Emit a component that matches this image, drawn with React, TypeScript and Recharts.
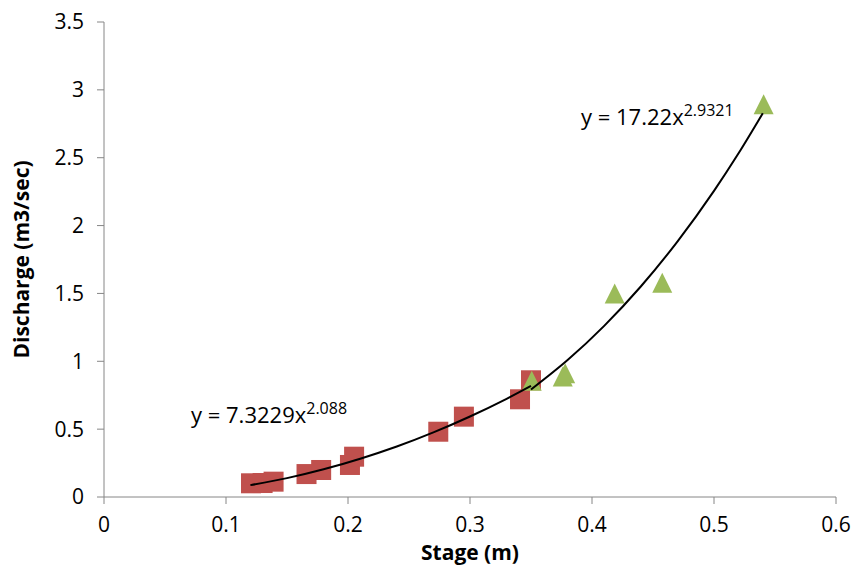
import { Scatter, ScatterChart, XAxis, YAxis } from "recharts"

// measured points: stage (m) vs discharge (m3/sec)
const lowStage = [0.1205, 0.13, 0.139, 0.166, 0.178, 0.2016, 0.205, 0.274, 0.295, 0.341, 0.35]
const lowFlow = [0.101, 0.103, 0.113, 0.169, 0.199, 0.236, 0.297, 0.481, 0.592, 0.72, 0.86]

const highStage = [0.3506, 0.376, 0.378, 0.4186, 0.4576, 0.5407]
const highFlow = [0.857, 0.887, 0.911, 1.5, 1.579, 2.894]

// trend lines
const lowTrendX = [0.12, 0.15, 0.18, 0.21, 0.24, 0.27, 0.3, 0.33, 0.35]
const lowTrendY = [0.0875, 0.139, 0.204, 0.282, 0.372, 0.476, 0.593, 0.723, 0.818]
const highTrendX = [0.35, 0.38, 0.41, 0.44, 0.47, 0.5, 0.52, 0.54]
const highTrendY = [0.792, 1.009, 1.261, 1.551, 1.882, 2.256, 2.531, 2.828]

const xTicks = [0, 0.1, 0.2, 0.3, 0.4, 0.5, 0.6]
const yTicks = [0, 0.5, 1, 1.5, 2, 2.5, 3, 3.5]

const zip = (xs: number[], ys: number[]) => xs.map((x, i) => ({ x, y: ys[i] }))

const lowData = zip(lowStage, lowFlow)
const highData = zip(highStage, highFlow)
const lowTrend = zip(lowTrendX, lowTrendY)
const highTrend = zip(highTrendX, highTrendY)

const font = "'Open Sans', sans-serif"
const axisColor = "#868686"

const Square = (props: any) => {
  const { cx, cy } = props
  return <rect x={cx - 10} y={cy - 10} width={20} height={20} fill="#C0504D" />
}

const Triangle = (props: any) => {
  const { cx, cy } = props
  return <polygon points={`${cx},${cy - 10} ${cx + 10},${cy + 10} ${cx - 10},${cy + 10}`} fill="#9BBB59" />
}

const NoDot = () => null

export default function App() {
  const tick = { fill: "#000", fontSize: 21, fontFamily: font }
  return (
    <div style={{ position: "absolute", left: 0, top: 0, background: "#fff" }}>
      <ScatterChart width={856} height={565} margin={{ top: 22, right: 20, bottom: 20, left: 44 }}>
        <XAxis
          type="number"
          dataKey="x"
          domain={[0, 0.6]}
          ticks={xTicks}
          tick={tick}
          tickSize={7}
          tickMargin={13}
          height={48}
          stroke={axisColor}
          allowDataOverflow
        />
        <YAxis
          type="number"
          dataKey="y"
          domain={[0, 3.5]}
          ticks={yTicks}
          tick={tick}
          tickSize={7}
          tickMargin={13}
          width={60}
          stroke={axisColor}
          allowDataOverflow
        />
        <Scatter data={lowData} shape={Square} isAnimationActive={false} />
        <Scatter data={highData} shape={Triangle} isAnimationActive={false} />
        <Scatter
          data={lowTrend}
          shape={NoDot}
          line={{ stroke: "#000", strokeWidth: 2 }}
          lineJointType="monotoneX"
          isAnimationActive={false}
        />
        <Scatter
          data={highTrend}
          shape={NoDot}
          line={{ stroke: "#000", strokeWidth: 2 }}
          lineJointType="monotoneX"
          isAnimationActive={false}
        />
        <text x={191} y={423} fontSize={22} fontFamily={font} fill="#000">
          y = 7.3229x<tspan dy={-9} fontSize={16}>2.088</tspan>
        </text>
        <text x={581} y={125} fontSize={22} fontFamily={font} fill="#000">
          y = 17.22x<tspan dy={-9} fontSize={16}>2.9321</tspan>
        </text>
        <text x={470} y={560} textAnchor="middle" fontSize={21} fontWeight="bold" fontFamily={font} fill="#000">
          Stage (m)
        </text>
        <text
          x={29}
          y={259.5}
          transform="rotate(-90 29 259.5)"
          textAnchor="middle"
          fontSize={21}
          fontWeight="bold"
          fontFamily={font}
          fill="#000"
        >
          Discharge (m3/sec)
        </text>
      </ScatterChart>
    </div>
  )
}
